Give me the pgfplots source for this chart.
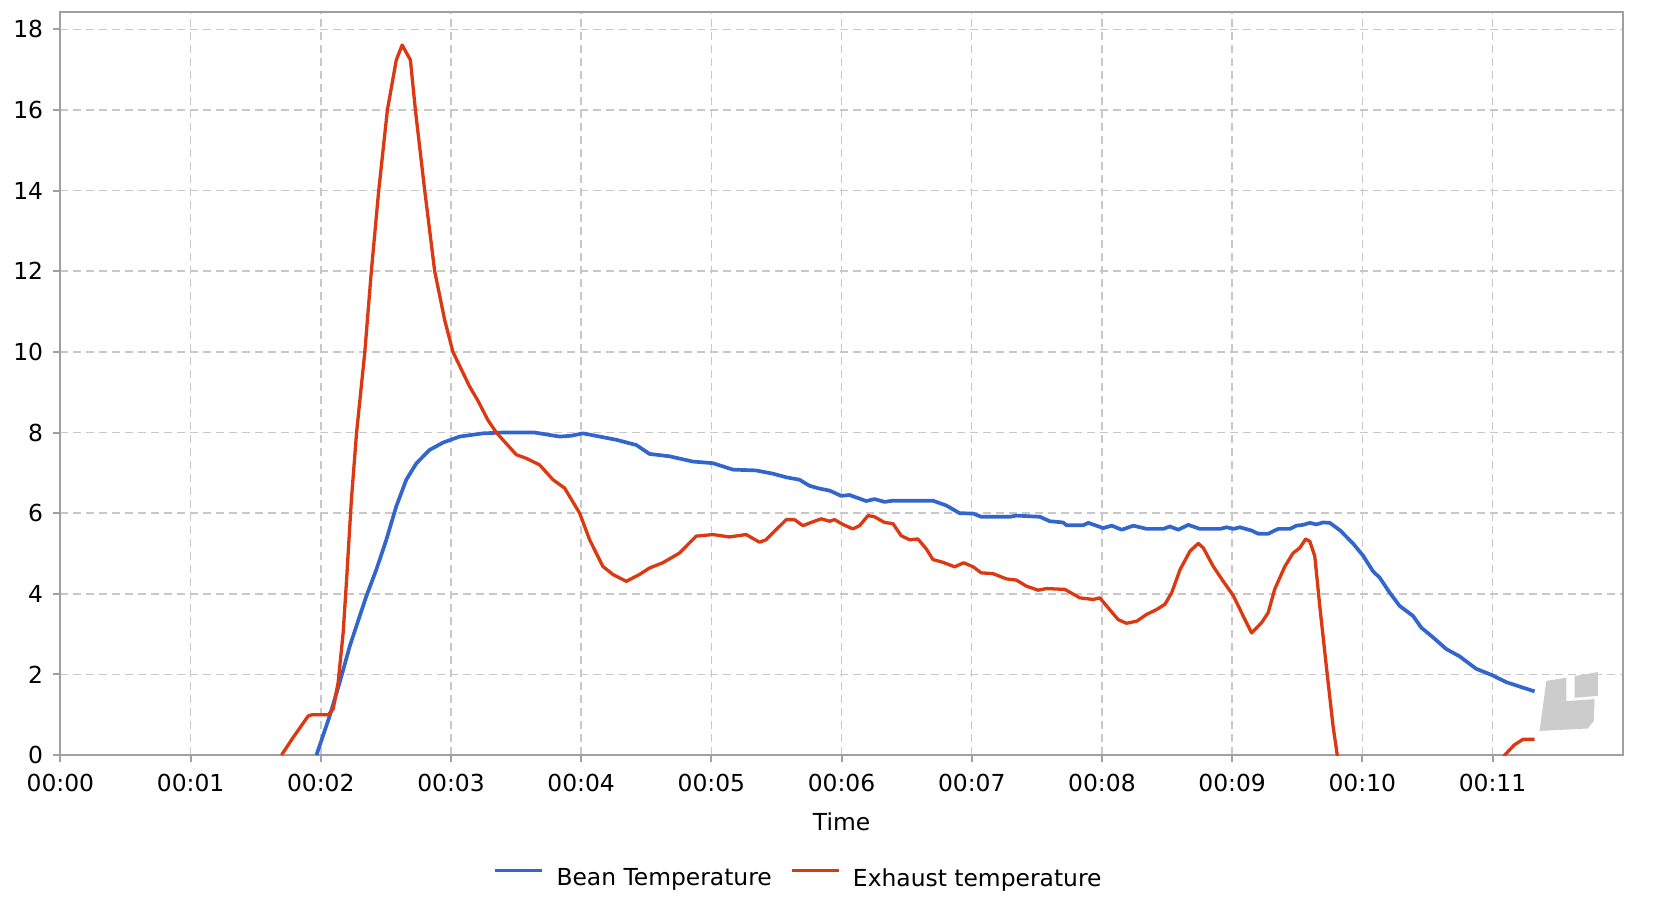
\documentclass[border=0pt]{standalone}
\usepackage{fontspec}
\setmainfont{DejaVu Sans}
\usepackage{pgfplots}
\pgfplotsset{compat=1.18}
\definecolor{beanblue}{HTML}{3366CC}
\definecolor{exhred}{HTML}{DC3912}
\definecolor{gridgray}{HTML}{C8C8C8}
\definecolor{axisgray}{HTML}{A0A0A0}
\begin{document}
\begin{tikzpicture}[font=\fontsize{11.7pt}{14pt}\selectfont]
\begin{axis}[
  at={(0,0)}, anchor=south west,
  scale only axis, width=781.15pt, height=371.7pt,
  xmin=0, xmax=720, ymin=0, ymax=18.437,
  xtick={0,60,120,180,240,300,360,420,480,540,600,660},
  xticklabels={00:00,00:01,00:02,00:03,00:04,00:05,00:06,00:07,00:08,00:09,00:10,00:11},
  ytick={0,2,4,6,8,10,12,14,16,18},
  grid=major,
  major grid style={draw=gridgray, line width=0.75pt, dash pattern=on 4pt off 2.5pt},
  axis line style={draw=axisgray, line width=1pt},
  tick style={draw=axisgray, line width=1pt},
  tick align=outside, tick pos=left, major tick length=3.5pt,
  xticklabel style={yshift=-2.6pt},
  yticklabel style={xshift=-1.6pt},
  /pgf/number format/assume math mode=true,
  xlabel={Time},
  xlabel style={at={(axis description cs:0.5,0)}, anchor=base, yshift=-37.8pt},
  unbounded coords=jump,
  legend columns=2,
  legend style={at={(axis description cs:0.2771,0)}, anchor=north west, yshift=-56.65pt,
    draw=none, fill=none, inner sep=0pt, outer sep=0pt,
    nodes={inner sep=0pt, outer sep=0pt},
    /tikz/every odd column/.append style={column sep=6.25pt},
    /tikz/every even column/.append style={column sep=9.2pt}},
  legend image code/.code={\draw[#1] (0pt,4.2pt) -- (23.5pt,4.2pt);},
]
\addplot[beanblue, line width=1.85pt, line join=round] coordinates {
(118,0) (124.1,0.97) (128.7,1.80) (133.4,2.71) (141.0,3.94) (145.6,4.60) (150.2,5.34)
(154.8,6.17) (159.4,6.83) (164.1,7.24) (170.2,7.57) (176.3,7.75) (184.0,7.90) (194.8,7.98)
(204.0,8.00) (218.5,8.00) (230.1,7.90) (235.4,7.92) (240.8,7.98) (248.5,7.90) (256.2,7.82)
(265.4,7.69) (271.5,7.47) (280.7,7.41) (291.5,7.28) (300.7,7.24) (309.9,7.08) (320.6,7.06)
(328.3,6.98) (334.5,6.89) (340.6,6.83) (345.2,6.68) (349.8,6.61) (354.5,6.56) (359.8,6.43)
(363.7,6.45) (371.4,6.30) (375.2,6.35) (379.8,6.28) (383.7,6.31) (402.1,6.31) (408.3,6.19)
(414.4,6.00) (420.6,5.99) (424.4,5.91) (437.5,5.91) (440.6,5.94) (451.4,5.91) (456.0,5.80)
(462.1,5.77) (463.7,5.70) (471.4,5.70) (473.7,5.76) (480.6,5.63) (484.5,5.69) (489.1,5.59)
(494.5,5.69) (500.6,5.61) (508.3,5.61) (511.3,5.67) (515.2,5.59) (519.8,5.71) (525.2,5.61)
(534.4,5.61) (537.5,5.65) (540.6,5.61) (543.6,5.65) (548.9,5.57) (552.0,5.49) (556.6,5.49)
(561.2,5.61) (566.6,5.61) (569.6,5.69) (572.7,5.71) (575.8,5.76) (578.8,5.72) (581.9,5.77)
(585.0,5.76) (589.6,5.58) (595.7,5.25) (600.3,4.95) (604.9,4.56) (608.0,4.40) (612.6,4.03)
(617.2,3.70) (623.4,3.45) (627.2,3.16) (632.6,2.92) (638.7,2.63) (644.8,2.45) (652.5,2.14)
(659.9,1.98) (666.3,1.81) (672.5,1.70) (679.4,1.58)
};
\addlegendentry{Bean Temperature}
\addplot[exhred, line width=1.65pt, line join=round] coordinates {
(101.9,0) (107.3,0.44) (114.2,0.97) (116,1.0) (123.4,1.0) (125.7,1.14) (128.0,1.80)
(130.3,3.03) (131.8,4.27) (134.1,6.33) (136.5,8.0) (140.3,10.0) (143.3,12.0) (146.7,14.0)
(150.7,16.0) (154.8,17.24) (157.5,17.61) (161.3,17.24) (163.6,16.0) (167.9,14.0) (172.5,12.0)
(177.1,10.79) (180.9,10.0) (188.6,9.14) (192.5,8.78) (197.0,8.31) (200.9,8.0) (210.1,7.45)
(214.7,7.36) (220.8,7.2) (227.0,6.83) (232.4,6.62) (239.3,6.0) (243.9,5.34) (250.0,4.68)
(254.6,4.48) (260.8,4.31) (266.9,4.48) (271.5,4.64) (277.6,4.77) (285.3,5.01) (288.4,5.18)
(293.0,5.43) (300.7,5.47) (308.3,5.41) (316.0,5.47) (322.2,5.28) (325.2,5.34) (329.1,5.55)
(334.5,5.84) (338.3,5.84) (342.2,5.69) (346.0,5.77) (350.6,5.86) (354.5,5.80) (356.8,5.84)
(360.6,5.72) (365.2,5.61) (368.3,5.69) (372.2,5.94) (375.2,5.91) (379.8,5.77) (383.7,5.74)
(387.5,5.44) (391.4,5.34) (395.2,5.36) (399.1,5.11) (402.1,4.85) (406.8,4.78) (412.1,4.67)
(416.3,4.77) (420.6,4.67) (424.4,4.52) (429.8,4.50) (436.0,4.37) (440.6,4.34) (445.2,4.19)
(450.6,4.09) (454.4,4.13) (462.9,4.11) (469.8,3.90) (476.0,3.86) (479.0,3.90) (482.9,3.65)
(487.5,3.36) (491.3,3.27) (496.0,3.32) (500.6,3.49) (505.2,3.61) (509.0,3.74) (512.1,4.02)
(516.0,4.60) (520.6,5.06) (524.4,5.25) (526.7,5.14) (531.3,4.68) (535.9,4.31) (540.5,3.96)
(545.1,3.45) (549.0,3.03) (553.5,3.28) (556.6,3.53) (559.6,4.11) (564.3,4.68) (568.1,5.01)
(571.2,5.14) (573.9,5.36) (575.8,5.30) (578.1,4.93) (580.4,3.69) (583.4,2.21) (586.5,0.72)
(588.4,0.02) (590,-0.8) (600,nan) (663,-0.5) (665.6,0) (670,0.25) (674,0.39) (679.4,0.39)
};
\addlegendentry{Exhaust temperature}
\fill[gray!40] (axis cs:681.7,0.60) -- (axis cs:684.8,1.84) -- (axis cs:694.0,1.92) -- (axis cs:694.0,1.34)
  -- (axis cs:707.0,1.39) -- (axis cs:706.7,0.85) -- (axis cs:703.9,0.66) -- cycle;
\fill[gray!40] (axis cs:697.8,1.96) -- (axis cs:708.5,2.06) -- (axis cs:708.5,1.47) -- (axis cs:697.8,1.42) -- cycle;
\end{axis}
\pgfresetboundingbox
\path[use as bounding box] (-30.2pt,-77.45pt) rectangle (802.8pt,377.55pt);
\end{tikzpicture}
\end{document}
